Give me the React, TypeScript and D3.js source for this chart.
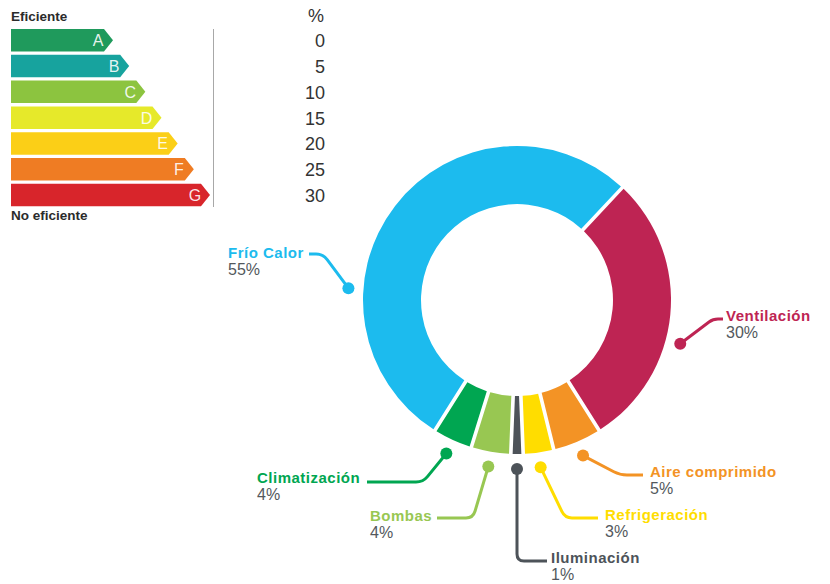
import React from 'react';
import * as d3 from 'd3';

// Energy consumption breakdown by use
const categories = ['Frío Calor', 'Ventilación', 'Aire comprimido', 'Refrigeración', 'Iluminación', 'Bombas', 'Climatización'];
const shares = [55, 30, 5, 3, 1, 4, 4];
const sliceColors = ['#1cbbee', '#be2453', '#f39325', '#ffdd00', '#4d5359', '#98c752', '#00a651'];

// Energy rating scale
const energyClasses = ['A', 'B', 'C', 'D', 'E', 'F', 'G'];
const classColors = ['#1f9a5c', '#17a39e', '#8cc43f', '#e6e92a', '#fbcf17', '#ef7c23', '#d8252b'];
const percentTicks = ['0', '5', '10', '15', '20', '25', '30'];

const W = 830;
const H = 584;
const FONT = '"Liberation Sans", Arial, Helvetica, sans-serif';
const PCT_COLOR = '#53585d';

const cx = 517;
const cy = 300;
const outerR = 154;
const innerR = 96;
const dotR = 169;

type Pt = [number | null, number];
interface LabelLayout {
  angleDeg?: number;
  elbow: Pt;
  end: Pt;
  tx: number;
  ty: number;
}

// Leader line routing for each category label
const labelLayout: LabelLayout[] = [
  { angleDeg: 274, elbow: [323, 254], end: [309, 254], tx: 228, ty: 258 },
  { angleDeg: 105, elbow: [713, 319], end: [723, 319], tx: 726, ty: 321 },
  { elbow: [620, 475], end: [643, 475], tx: 650, ty: 477 },
  { elbow: [565, 518], end: [598, 518], tx: 605, ty: 520 },
  { elbow: [null, 561], end: [547, 561], tx: 551, ty: 563 },
  { elbow: [473, 518], end: [437, 518], tx: 370, ty: 521 },
  { elbow: [423, 482], end: [367, 482], tx: 257, ty: 483 },
];

function leaderPath(p0: [number, number], p1: [number, number], p2: [number, number], r = 7): string {
  const d1x = p1[0] - p0[0], d1y = p1[1] - p0[1];
  const l1 = Math.hypot(d1x, d1y) || 1;
  const d2x = p2[0] - p1[0], d2y = p2[1] - p1[1];
  const l2 = Math.hypot(d2x, d2y) || 1;
  const rr = Math.min(r, l1 / 2, l2 / 2);
  const a: [number, number] = [p1[0] - (d1x / l1) * rr, p1[1] - (d1y / l1) * rr];
  const b: [number, number] = [p1[0] + (d2x / l2) * rr, p1[1] + (d2y / l2) * rr];
  const path = d3.path();
  path.moveTo(p0[0], p0[1]);
  path.lineTo(a[0], a[1]);
  path.quadraticCurveTo(p1[0], p1[1], b[0], b[1]);
  path.lineTo(p2[0], p2[1]);
  return path.toString();
}

function EnergyScale() {
  const x0 = 11;
  const top = 29;
  const pitch = 25.8;
  const barH = 22.5;
  const tip = d3.scaleLinear().domain([0, energyClasses.length - 1]).range([113, 210]);
  return (
    <g fontFamily={FONT}>
      <text x={x0} y={21} fontSize={13.5} fontWeight="bold" fill="#2b2b2b">Eficiente</text>
      {energyClasses.map((c, i) => {
        const y = top + i * pitch;
        const t = tip(i);
        const body = t - 9;
        const pts = [
          [x0, y],
          [body, y],
          [t, y + barH / 2],
          [body, y + barH],
          [x0, y + barH],
        ];
        return (
          <g key={c}>
            <polygon points={pts.map((p) => p.join(',')).join(' ')} fill={classColors[i]} />
            <text x={t - 15} y={y + barH / 2 + 6} fontSize={16} fill="#fff" fillOpacity={0.9} textAnchor="middle">{c}</text>
          </g>
        );
      })}
      <text x={x0} y={220} fontSize={13.5} fontWeight="bold" fill="#2b2b2b">No eficiente</text>
      <line x1={213.5} x2={213.5} y1={29} y2={207} stroke="#a8a8a8" strokeWidth={1} />
      <text x={324} y={22} fontSize={18} textAnchor="end" fill="#333">%</text>
      {percentTicks.map((t, i) => (
        <text key={t} x={325} y={top + i * pitch + barH / 2 + 7} fontSize={18} textAnchor="end" fill="#333">{t}</text>
      ))}
    </g>
  );
}

export default function App() {
  const padAngle = 0.02;
  const basePie = d3.pie<number>().sort(null).padAngle(padAngle);
  const probe = basePie(shares);
  const ilum = probe[4];
  const offset = Math.PI - (ilum.startAngle + ilum.endAngle) / 2;
  const pie = d3.pie<number>().sort(null).padAngle(padAngle).startAngle(offset).endAngle(offset + 2 * Math.PI);
  const arcs = pie(shares);
  const arc = d3.arc<d3.PieArcDatum<number>>().innerRadius(innerR).outerRadius(outerR);

  return (
    <svg width={W} height={H} style={{ position: 'absolute', left: 0, top: 0, display: 'block', background: '#fff' }}>
      <EnergyScale />
      <g transform={`translate(${cx},${cy})`}>
        {arcs.map((a, i) => (
          <path key={categories[i]} d={arc(a) || ''} fill={sliceColors[i]} />
        ))}
      </g>
      <g fontFamily={FONT}>
        {arcs.map((a, i) => {
          const L = labelLayout[i];
          const ang = L.angleDeg !== undefined ? (L.angleDeg * Math.PI) / 180 : (a.startAngle + a.endAngle) / 2;
          const dx = cx + dotR * Math.sin(ang);
          const dy = cy - dotR * Math.cos(ang);
          const elbow: [number, number] = [L.elbow[0] ?? dx, L.elbow[1]];
          const end: [number, number] = [L.end[0] ?? dx, L.end[1]];
          return (
            <g key={categories[i]}>
              <path d={leaderPath([dx, dy], elbow, end)} fill="none" stroke={sliceColors[i]} strokeWidth={3} strokeLinecap="butt" />
              <circle cx={dx} cy={dy} r={6} fill={sliceColors[i]} />
              <text x={L.tx} y={L.ty} fontSize={15} fontWeight="bold" letterSpacing={0.5} fill={sliceColors[i]}>{categories[i]}</text>
              <text x={L.tx} y={L.ty + 17} fontSize={16} fill={PCT_COLOR}>{`${shares[i]}%`}</text>
            </g>
          );
        })}
      </g>
    </svg>
  );
}
